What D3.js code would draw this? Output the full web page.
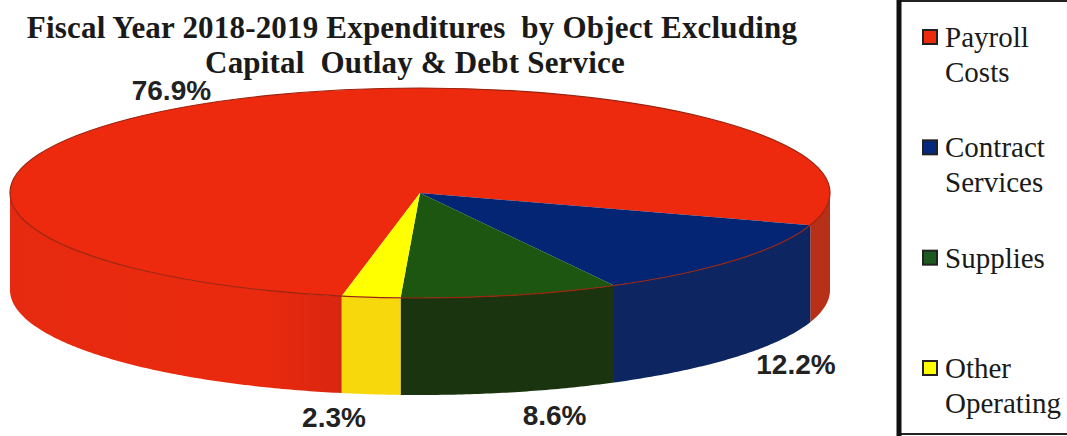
<!DOCTYPE html>
<html>
<head>
<meta charset="utf-8">
<script src="https://cdn.jsdelivr.net/npm/d3@7"></script>
<style>
  html, body { margin: 0; padding: 0; background: #fff; }
  svg { display: block; }
</style>
</head>
<body>
<svg id="chart" width="1067" height="436"></svg>
<script>
const categories = ["Payroll Costs", "Contract Services", "Supplies", "Other Operating"];
const percents = [76.9, 12.2, 8.6, 2.3];
const legendLines = [["Payroll", "Costs"], ["Contract", "Services"], ["Supplies"], ["Other", "Operating"]];
const topColors = ["#ee2a0e", "#032574", "#1c5610", "#ffff00"];
const wallColors = ["url(#redWall)", "#0d2560", "#1a3410", "#f6d80c"];
const swatchColors = ["#ee2a0e", "#04297f", "#1d5a22", "#ffff00"];
const titleLines = ["Fiscal Year 2018-2019 Expenditures  by Object Excluding", "Capital  Outlay & Debt Service"];

const svg = d3.select("#chart");

const cx = 420, cy = 193, rx = 410, ry = 105, depth = 97;
const startAngle = 191 * Math.PI / 180;

// red side wall is flat on the left, and darker on the far right
const defs = svg.append("defs");
const redGrad = defs.append("linearGradient").attr("id", "redWall")
    .attr("gradientUnits", "userSpaceOnUse")
    .attr("x1", cx - rx).attr("x2", cx + rx).attr("y1", 0).attr("y2", 0);
redGrad.append("stop").attr("offset", 0).attr("stop-color", "#e62a10");
redGrad.append("stop").attr("offset", 0.3).attr("stop-color", "#ea2a0e");
redGrad.append("stop").attr("offset", 0.4).attr("stop-color", "#da2610");
redGrad.append("stop").attr("offset", 0.41).attr("stop-color", "#ac2a14");
redGrad.append("stop").attr("offset", 1).attr("stop-color", "#b83018");

const pie = d3.pie().sort(null).startAngle(startAngle).endAngle(startAngle + 2 * Math.PI);
const slices = pie(percents).map((d, i) => ({...d, i}));

const rimX = a => cx + rx * Math.sin(a);
const rimY = a => cy - ry * Math.cos(a);

/**
 * Side walls: only the front half of the rim shows.
 */
const wallArea = d3.area()
    .x(a => rimX(a))
    .y0(a => rimY(a))
    .y1(a => rimY(a) + depth);

const g_walls = svg.append("g");
slices.forEach(d => {
    [0, 1].forEach(k => {
        const from = Math.max(d.startAngle, Math.PI / 2 + k * 2 * Math.PI);
        const to = Math.min(d.endAngle, 3 * Math.PI / 2 + k * 2 * Math.PI);
        if (to <= from) return;
        const angles = d3.range(from, to, 0.01).concat([to]);
        g_walls.append("path")
            .attr("d", wallArea(angles))
            .attr("fill", wallColors[d.i]);
    });
});

/**
 * Top of the pie, a flat arc squashed into an ellipse.
 */
const arc = d3.arc().innerRadius(0).outerRadius(rx);
svg.append("g")
    .attr("transform", `translate(${cx},${cy}) scale(1,${ry / rx})`)
    .selectAll("path")
    .data(slices)
    .enter()
    .append("path")
    .attr("d", arc)
    .attr("fill", d => topColors[d.i]);

// thin dark rim line along the front and back of the top
svg.append("ellipse")
    .attr("cx", cx).attr("cy", cy).attr("rx", rx).attr("ry", ry)
    .attr("fill", "none").attr("stroke", "#9a2410").attr("stroke-width", 1.2);

/**
 * Percent labels, placed from the slice's mid angle.
 */
const labelNudge = [[-40, -3], [61, 17], [44, 33], [-37, 33]];
svg.append("g")
    .selectAll("text")
    .data(slices)
    .enter()
    .append("text")
    .attr("x", d => rimX((d.startAngle + d.endAngle) / 2) + labelNudge[d.i][0])
    .attr("y", d => {
        const a = (d.startAngle + d.endAngle) / 2;
        return rimY(a) + (Math.cos(a) < 0 ? depth : 0) + labelNudge[d.i][1];
    })
    .attr("text-anchor", "middle")
    .attr("font-family", "Liberation Sans")
    .attr("font-weight", "bold")
    .attr("font-size", 28)
    .attr("fill", "#222")
    .text(d => d.data.toFixed(1) + "%");

/**
 * Title
 */
svg.append("g")
    .selectAll("text")
    .data(titleLines)
    .enter()
    .append("text")
    .attr("x", (d, i) => i === 0 ? 412 : 415)
    .attr("y", (d, i) => 38 + i * 35)
    .attr("text-anchor", "middle")
    .style("white-space", "pre")
    .style("letter-spacing", "0.19px")
    .attr("font-family", "Liberation Serif")
    .attr("font-weight", "bold")
    .attr("font-size", 31)
    .attr("fill", "#1a1a1a")
    .text(d => d);

/**
 * Legend box, runs off the right edge
 */
const legend = svg.append("g");
legend.append("rect")
    .attr("x", 899).attr("y", 1).attr("width", 180).attr("height", 433)
    .attr("fill", "#fff").attr("stroke", "#222").attr("stroke-width", 2);
legend.append("line")
    .attr("x1", 899).attr("x2", 899).attr("y1", 0).attr("y2", 436)
    .attr("stroke", "#111").attr("stroke-width", 5);

const legendY = d3.scalePoint().domain(categories).range([37, 368]);
const legendItem = legend.selectAll(".legend_item")
    .data(categories)
    .enter()
    .append("g")
    .attr("class", "legend_item")
    .attr("transform", d => `translate(0,${legendY(d)})`);

legendItem.append("rect")
    .attr("x", 923).attr("y", -7).attr("width", 14).attr("height", 14)
    .attr("fill", (d, i) => swatchColors[i])
    .attr("stroke", "#222").attr("stroke-width", 2);

legendItem.selectAll("text")
    .data((d, i) => legendLines[i])
    .enter()
    .append("text")
    .attr("x", 945)
    .attr("y", (d, j) => 10 + j * 35)
    .attr("font-family", "Liberation Serif")
    .attr("font-size", 29)
    .attr("fill", "#1a1a1a")
    .text(d => d);
</script>
</body>
</html>
